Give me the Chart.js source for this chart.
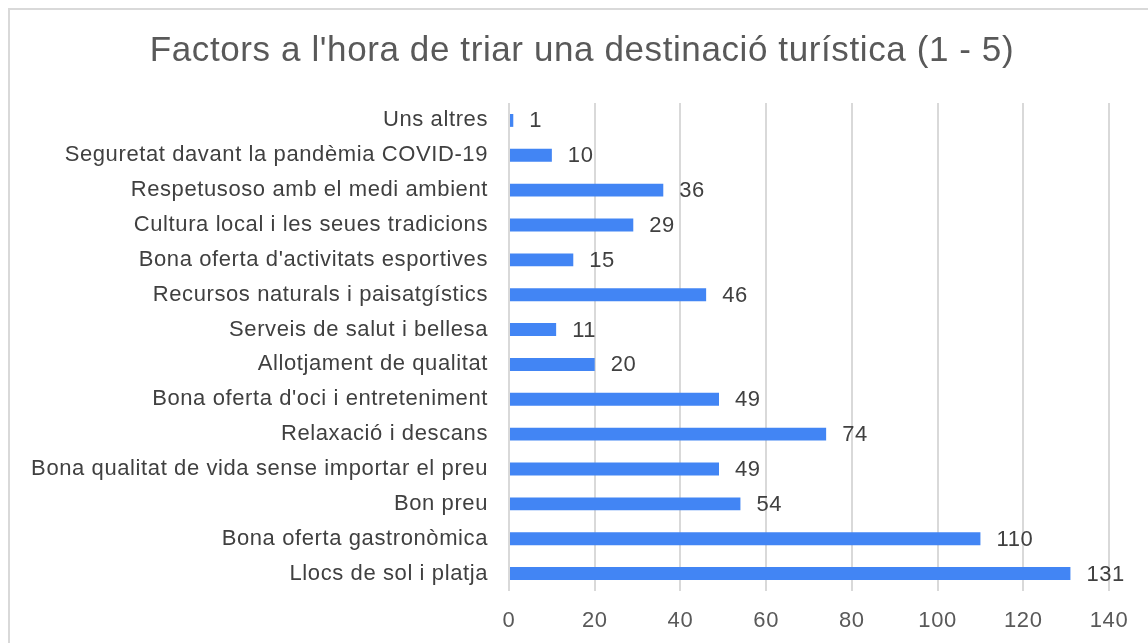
<!DOCTYPE html>
<html>
<head>
<meta charset="utf-8">
<script src="https://cdn.jsdelivr.net/npm/chart.js@4"></script>
<style>
  html, body { margin: 0; padding: 0; background: #fff; overflow: hidden; }
  #frame { position: absolute; left: 8px; top: 8px; width: 1300px; height: 800px;
           border: 2px solid #d9d9d9; box-sizing: border-box; }
  #wrap { position: absolute; left: 0; top: 0; width: 1148px; height: 643px; }
</style>
</head>
<body>
<div id="frame"></div>
<div id="wrap"><canvas id="chart"></canvas></div>
<script>
const chartTitle = "Factors a l'hora de triar una destinació turística (1 - 5)";
const categories = [
    "Uns altres",
    "Seguretat davant la pandèmia COVID-19",
    "Respetusoso amb el medi ambient",
    "Cultura local i les seues tradicions",
    "Bona oferta d'activitats esportives",
    "Recursos naturals i paisatgístics",
    "Serveis de salut i bellesa",
    "Allotjament de qualitat",
    "Bona oferta d'oci i entreteniment",
    "Relaxació i descans",
    "Bona qualitat de vida sense importar el preu",
    "Bon preu",
    "Bona oferta gastronòmica",
    "Llocs de sol i platja"
];
const votes = [1, 10, 36, 29, 15, 46, 11, 20, 49, 74, 49, 54, 110, 131];
const xTicks = [0, 20, 40, 60, 80, 100, 120, 140];

const fontFamily = "'Liberation Sans', Arial, sans-serif";
const spacing = "0.6px";

// slightly wider text, like the original
const letterSpacing = {
    id: "letterSpacing",
    beforeUpdate(chart) { chart.ctx.letterSpacing = spacing; },
    beforeDraw(chart) { chart.ctx.letterSpacing = spacing; },
};

// title centred on the whole frame, not just the chart box
const titleText = {
    id: "titleText",
    afterDraw(chart) {
        const ctx = chart.ctx;
        ctx.save();
        ctx.font = "35px " + fontFamily;
        ctx.fillStyle = "#595959";
        ctx.textAlign = "center";
        ctx.textBaseline = "middle";
        ctx.fillText(chartTitle, 582, 51);
        ctx.restore();
    }
};

// labels at the end of each bar
const barLabels = {
    id: "barLabels",
    afterDatasetsDraw(chart) {
        const ctx = chart.ctx;
        const meta = chart.getDatasetMeta(0);
        ctx.save();
        ctx.font = "22px " + fontFamily;
        ctx.fillStyle = "#404040";
        ctx.textAlign = "left";
        ctx.textBaseline = "middle";
        meta.data.forEach((bar, i) => {
            ctx.fillText(String(votes[i]), bar.x + 16, bar.y + 1);
        });
        ctx.restore();
    }
};

new Chart(document.getElementById("chart"), {
    type: "bar",
    data: {
        labels: categories,
        datasets: [{
            data: votes,
            backgroundColor: "#4285f4",
            borderWidth: 0,
            categoryPercentage: 1,
            barPercentage: 0.37,
        }]
    },
    options: {
        indexAxis: "y",
        responsive: true,
        maintainAspectRatio: false,
        animation: false,
        layout: { padding: { left: 0, right: 39, top: 103, bottom: 0 } },
        plugins: {
            legend: { display: false },
            tooltip: { enabled: false },
            title: { display: false },
        },
        scales: {
            x: {
                min: 0,
                max: 140,
                afterBuildTicks: (axis) => {
                    axis.ticks = xTicks.map((v) => ({ value: v }));
                },
                afterFit: (axis) => { axis.height = 52; },
                border: { display: false },
                grid: { color: "#d9d9d9", lineWidth: 2, drawTicks: false },
                ticks: {
                    padding: 17,
                    color: "#595959",
                    font: { family: fontFamily, size: 22 },
                },
            },
            y: {
                afterFit: (axis) => { axis.width = 509; },
                border: { display: false },
                grid: { display: false, drawTicks: false },
                ticks: {
                    padding: 21,
                    color: "#404040",
                    font: { family: fontFamily, size: 22 },
                    autoSkip: false,
                },
            },
        },
    },
    plugins: [letterSpacing, titleText, barLabels],
});
</script>
</body>
</html>
